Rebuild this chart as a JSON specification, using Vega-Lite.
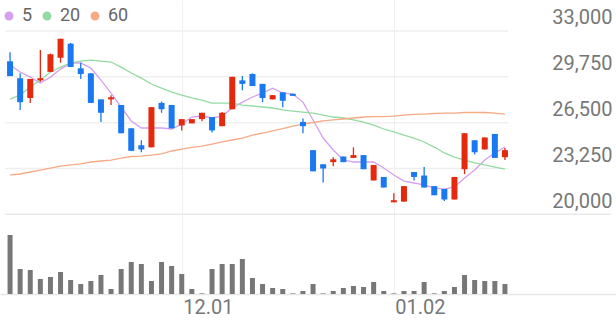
{
  "$schema": "https://vega.github.io/schema/vega-lite/v6.json",
  "width": 616,
  "height": 294,
  "autosize": {"type": "none"},
  "padding": {"left": 0, "top": 0, "right": 0, "bottom": 27},
  "background": "white",
  "config": {
    "view": {"stroke": null},
    "font": "Roboto",
    "axis": {"grid": false, "ticks": false, "domain": false, "labelFont": "Roboto"},
    "legend": {"labelFont": "Roboto"}
  },
  "datasets": {
    "candles": [
      {"i":0,"date":"2022-11-08","open":30850,"high":31500,"low":29800,"close":29800,"volume":2950000,"ma5":30590,"ma20":28170,"ma60":22790},
      {"i":1,"date":"2022-11-09","open":29650,"high":30000,"low":27400,"close":27950,"volume":1250000,"ma5":30090,"ma20":28460,"ma60":22860},
      {"i":2,"date":"2022-11-10","open":28250,"high":29600,"low":27900,"close":29600,"volume":1200000,"ma5":29730,"ma20":29030,"ma60":23000},
      {"i":3,"date":"2022-11-11","open":29500,"high":31650,"low":29400,"close":29650,"volume":750000,"ma5":29310,"ma20":29520,"ma60":23140},
      {"i":4,"date":"2022-11-14","open":30100,"high":31400,"low":30100,"close":31350,"volume":850000,"ma5":29730,"ma20":30090,"ma60":23280},
      {"i":5,"date":"2022-11-15","open":31100,"high":32450,"low":30750,"close":32450,"volume":1100000,"ma5":30300,"ma20":30440,"ma60":23420},
      {"i":6,"date":"2022-11-16","open":32100,"high":32150,"low":30450,"close":30450,"volume":700000,"ma5":30730,"ma20":30730,"ma60":23500},
      {"i":7,"date":"2022-11-17","open":30350,"high":30750,"low":29600,"close":29950,"volume":500000,"ma5":30730,"ma20":30870,"ma60":23570},
      {"i":8,"date":"2022-11-18","open":30000,"high":30000,"low":27900,"close":27900,"volume":650000,"ma5":30370,"ma20":30940,"ma60":23710},
      {"i":9,"date":"2022-11-21","open":28150,"high":28150,"low":26550,"close":27200,"volume":950000,"ma5":29520,"ma20":30870,"ma60":23780},
      {"i":10,"date":"2022-11-22","open":28150,"high":28450,"low":27750,"close":28300,"volume":250000,"ma5":28600,"ma20":30800,"ma60":23850},
      {"i":11,"date":"2022-11-23","open":27750,"high":27750,"low":25750,"close":25750,"volume":1250000,"ma5":27610,"ma20":30440,"ma60":23990},
      {"i":12,"date":"2022-11-24","open":26100,"high":26100,"low":24500,"close":24500,"volume":1600000,"ma5":26620,"ma20":30020,"ma60":24100},
      {"i":13,"date":"2022-11-25","open":24900,"high":25250,"low":24400,"close":24600,"volume":1500000,"ma5":26120,"ma20":29660,"ma60":24130},
      {"i":14,"date":"2022-11-28","open":24750,"high":27600,"low":24750,"close":27600,"volume":650000,"ma5":26120,"ma20":29240,"ma60":24200},
      {"i":15,"date":"2022-11-29","open":27900,"high":28000,"low":27200,"close":27450,"volume":1600000,"ma5":26120,"ma20":28950,"ma60":24280},
      {"i":16,"date":"2022-11-30","open":27750,"high":27750,"low":26100,"close":26100,"volume":1400000,"ma5":26050,"ma20":28670,"ma60":24490},
      {"i":17,"date":"2022-12-01","open":26300,"high":26750,"low":25950,"close":26750,"volume":1000000,"ma5":26400,"ma20":28460,"ma60":24630},
      {"i":18,"date":"2022-12-02","open":26450,"high":26750,"low":26450,"close":26750,"volume":250000,"ma5":26900,"ma20":28250,"ma60":24740},
      {"i":19,"date":"2022-12-05","open":26750,"high":27200,"low":26600,"close":27200,"volume":30000,"ma5":26970,"ma20":28100,"ma60":24840},
      {"i":20,"date":"2022-12-06","open":26900,"high":26900,"low":25800,"close":25950,"volume":1250000,"ma5":26830,"ma20":27890,"ma60":24980},
      {"i":21,"date":"2022-12-07","open":26250,"high":27250,"low":26250,"close":27200,"volume":1500000,"ma5":26970,"ma20":27890,"ma60":25130},
      {"i":22,"date":"2022-12-08","open":27450,"high":29750,"low":27450,"close":29750,"volume":1500000,"ma5":27540,"ma20":27890,"ma60":25270},
      {"i":23,"date":"2022-12-09","open":29500,"high":29800,"low":28800,"close":29250,"volume":1750000,"ma5":27960,"ma20":27750,"ma60":25410},
      {"i":24,"date":"2022-12-12","open":29950,"high":30000,"low":29100,"close":29100,"volume":800000,"ma5":28320,"ma20":27680,"ma60":25620},
      {"i":25,"date":"2022-12-13","open":29250,"high":29250,"low":27950,"close":28250,"volume":500000,"ma5":28600,"ma20":27610,"ma60":25760},
      {"i":26,"date":"2022-12-14","open":28150,"high":28450,"low":28150,"close":28450,"volume":300000,"ma5":28950,"ma20":27540,"ma60":25910},
      {"i":27,"date":"2022-12-15","open":28650,"high":28650,"low":27600,"close":28050,"volume":250000,"ma5":28600,"ma20":27400,"ma60":26080},
      {"i":28,"date":"2022-12-16","open":28550,"high":28550,"low":28400,"close":28400,"volume":30000,"ma5":28530,"ma20":27320,"ma60":26260},
      {"i":29,"date":"2022-12-19","open":26550,"high":26800,"low":25750,"close":26250,"volume":150000,"ma5":27960,"ma20":27250,"ma60":26400},
      {"i":30,"date":"2022-12-20","open":24550,"high":24550,"low":23050,"close":23050,"volume":500000,"ma5":26690,"ma20":27180,"ma60":26510},
      {"i":31,"date":"2022-12-21","open":23550,"high":23550,"low":22250,"close":23250,"volume":30000,"ma5":25410,"ma20":27040,"ma60":26620},
      {"i":32,"date":"2022-12-22","open":23700,"high":24050,"low":23400,"close":23900,"volume":150000,"ma5":24560,"ma20":26900,"ma60":26690},
      {"i":33,"date":"2022-12-23","open":24100,"high":24100,"low":23700,"close":23700,"volume":300000,"ma5":23850,"ma20":26830,"ma60":26760},
      {"i":34,"date":"2022-12-26","open":24000,"high":24750,"low":24000,"close":24200,"volume":400000,"ma5":23710,"ma20":26690,"ma60":26830},
      {"i":35,"date":"2022-12-27","open":24200,"high":24200,"low":23200,"close":23200,"volume":350000,"ma5":23710,"ma20":26540,"ma60":26900},
      {"i":36,"date":"2022-12-28","open":22400,"high":23500,"low":22400,"close":23500,"volume":600000,"ma5":23710,"ma20":26330,"ma60":26930},
      {"i":37,"date":"2022-12-29","open":22650,"high":22650,"low":21900,"close":21900,"volume":150000,"ma5":23280,"ma20":26050,"ma60":26930},
      {"i":38,"date":"2023-01-02","open":20850,"high":21500,"low":20850,"close":21000,"volume":30000,"ma5":22790,"ma20":25840,"ma60":26970},
      {"i":39,"date":"2023-01-03","open":20900,"high":22000,"low":20900,"close":22000,"volume":150000,"ma5":22360,"ma20":25620,"ma60":27040},
      {"i":40,"date":"2023-01-04","open":23000,"high":23000,"low":22400,"close":22650,"volume":150000,"ma5":22220,"ma20":25410,"ma60":27080},
      {"i":41,"date":"2023-01-05","open":22750,"high":23350,"low":21900,"close":21900,"volume":600000,"ma5":22080,"ma20":25130,"ma60":27110},
      {"i":42,"date":"2023-01-06","open":22000,"high":22000,"low":21350,"close":21350,"volume":30000,"ma5":21860,"ma20":24770,"ma60":27150},
      {"i":43,"date":"2023-01-09","open":21800,"high":21800,"low":20950,"close":21050,"volume":150000,"ma5":21790,"ma20":24350,"ma60":27180},
      {"i":44,"date":"2023-01-10","open":21050,"high":22650,"low":21050,"close":22650,"volume":350000,"ma5":21940,"ma20":24060,"ma60":27180},
      {"i":45,"date":"2023-01-11","open":23200,"high":25750,"low":22850,"close":25750,"volume":950000,"ma5":22570,"ma20":23850,"ma60":27220},
      {"i":46,"date":"2023-01-12","open":25250,"high":25250,"low":24250,"close":24400,"volume":700000,"ma5":23140,"ma20":23640,"ma60":27220},
      {"i":47,"date":"2023-01-13","open":24600,"high":25450,"low":24600,"close":25450,"volume":650000,"ma5":23850,"ma20":23500,"ma60":27220},
      {"i":48,"date":"2023-01-16","open":25700,"high":25700,"low":24000,"close":24000,"volume":650000,"ma5":24350,"ma20":23350,"ma60":27180},
      {"i":49,"date":"2023-01-17","open":24050,"high":24700,"low":23850,"close":24550,"volume":500000,"ma5":24770,"ma20":23210,"ma60":27110}
    ],
    "levels": [{"p":33000},{"p":29750},{"p":26500},{"p":23250}]
  },
  "layer": [
    {
      "layer": [
        {
          "data": {"name": "levels"},
          "mark": {"type": "rule", "color": "#efefef", "strokeWidth": 1.5},
          "encoding": {
            "x": {"datum": -0.5, "type": "quantitative", "title": null},
            "x2": {"datum": 49.3},
            "y": {"field": "p", "type": "quantitative", "title": null}
          }
        },
        {
          "data": {"values": [{"p": 20000}]},
          "mark": {"type": "rule", "color": "#e9e9e9", "strokeWidth": 1.5},
          "encoding": {
            "x": {"datum": -0.5, "type": "quantitative", "title": null},
            "x2": {"datum": 59.5},
            "y": {"field": "p", "type": "quantitative", "title": null}
          }
        },
        {
          "data": {"name": "candles"},
          "transform": [{"fold": ["ma5", "ma20", "ma60"], "as": ["ma", "value"]}],
          "mark": {"type": "line", "strokeWidth": 1.3, "interpolate": "linear"},
          "encoding": {
            "x": {"field": "i", "type": "quantitative", "title": null},
            "y": {"field": "value", "type": "quantitative", "title": null},
            "color": {
              "field": "ma", "type": "nominal",
              "scale": {"domain": ["ma5", "ma20", "ma60"], "range": ["#d69ff0", "#93dba1", "#f6aa86"]},
              "legend": {
                "orient": "none", "legendX": 0, "legendY": 7, "direction": "horizontal",
                "title": null, "symbolType": "circle", "symbolSize": 80,
                "labelFontSize": 18, "labelColor": "#666666", "labelOffset": 4, "columnPadding": 5,
                "symbolStrokeWidth": 0,
                "labelExpr": "replace(datum.label, 'ma', '')",
                "encode": {"symbols": {"update": {"fill": {"scale": "color", "field": "value"}, "opacity": {"value": 1}}}}
              }
            }
          }
        },
        {
          "data": {"name": "candles"},
          "mark": {"type": "rule", "strokeWidth": 1.3},
          "encoding": {
            "x": {"field": "i", "type": "quantitative", "title": null},
            "y": {"field": "low", "type": "quantitative", "title": null},
            "y2": {"field": "high"},
            "color": {"condition": {"test": "datum.close >= datum.open", "value": "#e3290e"}, "value": "#1a78f0"}
          }
        },
        {
          "data": {"name": "candles"},
          "mark": {"type": "bar", "size": 6},
          "encoding": {
            "x": {
              "field": "i", "type": "quantitative", "title": null,
              "scale": {"domain": [-0.5, 59.5], "nice": false, "zero": false},
              "axis": {
                "values": [17, 38],
                "labelExpr": "datum.value == 17 ? '12.01' : '01.02'",
                "grid": true, "gridColor": "#f0f0f0", "gridWidth": 1,
                "domain": true, "domainColor": "#e6e6e6", "domainWidth": 1.5,
                "ticks": false, "labelFontSize": 20, "labelColor": "#777777", "labelPadding": 3,
                "labelAlign": "left", "labelOffset": 1
              }
            },
            "y": {
              "field": "open", "type": "quantitative", "title": null,
              "scale": {"domain": [14349, 35198], "nice": false, "zero": false},
              "axis": {
                "orient": "right", "values": [20000, 23250, 26500, 29750, 33000],
                "labelExpr": "format(datum.value, ',d')",
                "offset": -4, "labelAlign": "right", "labelBaseline": "alphabetic", "labelOffset": -7,
                "labelPadding": 0, "tickSize": 0, "labelFontSize": 20, "labelColor": "#777777"
              }
            },
            "y2": {"field": "close"},
            "color": {"condition": {"test": "datum.close >= datum.open", "value": "#e3290e"}, "value": "#1a78f0"}
          }
        }
      ]
    },
    {
      "data": {"name": "candles"},
      "mark": {"type": "bar", "size": 5, "color": "#777777"},
      "encoding": {
        "x": {"field": "i", "type": "quantitative", "title": null},
        "y": {"field": "volume", "type": "quantitative", "title": null, "scale": {"domain": [0, 14700000], "nice": false}, "axis": null}
      }
    }
  ],
  "resolve": {"scale": {"y": "independent"}}
}
